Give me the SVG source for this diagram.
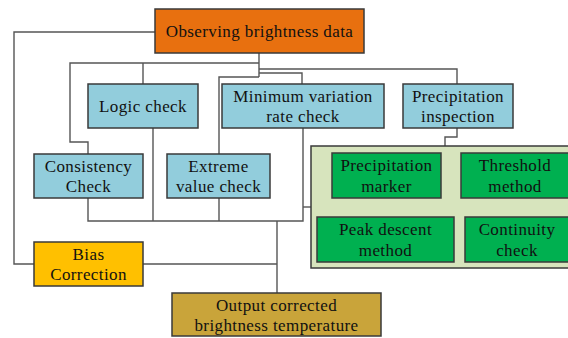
<svg xmlns="http://www.w3.org/2000/svg" width="568" height="338" viewBox="0 0 568 338">
<style>
.b{stroke:#3a3a3a;stroke-width:1.5}
.t{font-family:'Liberation Serif','DejaVu Serif',serif;font-size:17px;letter-spacing:0.4px;fill:#111;text-anchor:middle}
.c{fill:none;stroke:#555;stroke-width:1.4}
</style>
<rect width="568" height="338" fill="#fff"/>
<g id="connectors">
<polyline class="c" points="155,32 14,32 14,264 34,264"/>
<polyline class="c" points="259,53 259,77"/>
<polyline class="c" points="259,63 70,63 70,142 88,142 88,154"/>
<polyline class="c" points="143,63 143,84"/>
<polyline class="c" points="259,69 457,69 457,84"/>
<polyline class="c" points="259,73 302,73 302,84"/>
<polyline class="c" points="259,77 219,77 219,154"/>
<polyline class="c" points="88,198 88,221 303,221 303,128"/>
<polyline class="c" points="153,128 153,221"/>
<polyline class="c" points="219,198 219,221"/>
<polyline class="c" points="303,207 311,207"/>
<polyline class="c" points="143,264 277,264"/>
<polyline class="c" points="277,221 277,293"/>
<polyline class="c" points="457,128 457,137 445,137 445,146"/>
</g>
<g id="observing">
<rect class="b" x="155" y="9" width="209" height="44" fill="#E8700F"/>
<text class="t" x="259.5" y="37">Observing brightness data</text>
</g>
<g id="logic">
<rect class="b" x="88" y="84" width="110" height="44" fill="#92CDDC"/>
<text class="t" x="143" y="112">Logic check</text>
</g>
<g id="minimum">
<rect class="b" x="222" y="84" width="162" height="44" fill="#92CDDC"/>
<text class="t" x="303" y="102">Minimum variation</text>
<text class="t" x="303" y="122">rate check</text>
</g>
<g id="precip-inspection">
<rect class="b" x="403" y="84" width="110" height="44" fill="#92CDDC"/>
<text class="t" x="458" y="102">Precipitation</text>
<text class="t" x="458" y="122">inspection</text>
</g>
<g id="consistency">
<rect class="b" x="34" y="154" width="109" height="44" fill="#92CDDC"/>
<text class="t" x="88.5" y="172">Consistency</text>
<text class="t" x="88.5" y="192">Check</text>
</g>
<g id="extreme">
<rect class="b" x="167" y="154" width="103" height="44" fill="#92CDDC"/>
<text class="t" x="218.5" y="172">Extreme</text>
<text class="t" x="218.5" y="192">value check</text>
</g>
<g id="precip-group">
<rect class="b" x="311" y="146" width="262" height="122" fill="#D7E4BD"/>
</g>
<g id="precip-marker">
<rect class="b" x="332" y="153" width="109" height="45" fill="#00B050"/>
<text class="t" x="386.5" y="171">Precipitation</text>
<text class="t" x="386.5" y="192">marker</text>
</g>
<g id="threshold">
<rect class="b" x="461" y="153" width="108" height="45" fill="#00B050"/>
<text class="t" x="515" y="171">Threshold</text>
<text class="t" x="515" y="192">method</text>
</g>
<g id="peak">
<rect class="b" x="317" y="217" width="137" height="45" fill="#00B050"/>
<text class="t" x="385.5" y="235">Peak descent</text>
<text class="t" x="385.5" y="256">method</text>
</g>
<g id="continuity">
<rect class="b" x="465" y="217" width="104" height="45" fill="#00B050"/>
<text class="t" x="517" y="235">Continuity</text>
<text class="t" x="517" y="256">check</text>
</g>
<g id="bias">
<rect class="b" x="34" y="242" width="109" height="44" fill="#FFC000"/>
<text class="t" x="88.5" y="260">Bias</text>
<text class="t" x="88.5" y="280">Correction</text>
</g>
<g id="output">
<rect class="b" x="172" y="293" width="209" height="43" fill="#C9A43A"/>
<text class="t" x="276.5" y="311">Output corrected</text>
<text class="t" x="276.5" y="331">brightness temperature</text>
</g>
</svg>
